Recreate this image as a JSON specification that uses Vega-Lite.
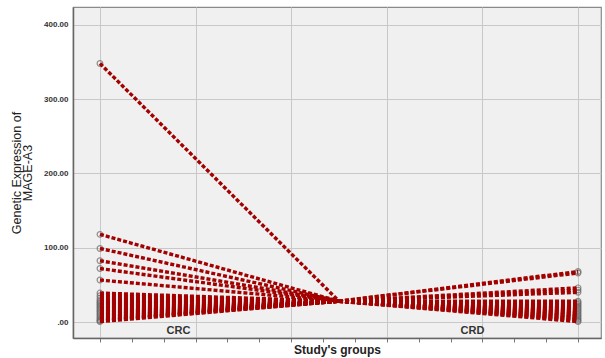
{
  "$schema": "https://vega.github.io/schema/vega-lite/v6.json",
  "width": 528,
  "height": 331,
  "autosize": {"type": "none"},
  "padding": {"left": 73, "top": 7, "right": 4, "bottom": 20},
  "background": "white",
  "config": {
    "view": {"fill": "#f0f0f0", "stroke": "#8a8a8a", "strokeWidth": 1.2},
    "font": "Liberation Sans"
  },
  "data": {
    "values": [
      {"line": "CRC01", "x": 0, "value": 348}, {"line": "CRC01", "x": 2.5, "value": 28},
      {"line": "CRC02", "x": 0, "value": 118}, {"line": "CRC02", "x": 2.5, "value": 28},
      {"line": "CRC03", "x": 0, "value": 99}, {"line": "CRC03", "x": 2.5, "value": 28},
      {"line": "CRC04", "x": 0, "value": 82.5}, {"line": "CRC04", "x": 2.5, "value": 28},
      {"line": "CRC05", "x": 0, "value": 72}, {"line": "CRC05", "x": 2.5, "value": 28},
      {"line": "CRC06", "x": 0, "value": 56.5}, {"line": "CRC06", "x": 2.5, "value": 28},
      {"line": "CRC07", "x": 0, "value": 39}, {"line": "CRC07", "x": 2.5, "value": 28},
      {"line": "CRC08", "x": 0, "value": 35.5}, {"line": "CRC08", "x": 2.5, "value": 28},
      {"line": "CRC09", "x": 0, "value": 32}, {"line": "CRC09", "x": 2.5, "value": 28},
      {"line": "CRC10", "x": 0, "value": 29}, {"line": "CRC10", "x": 2.5, "value": 28},
      {"line": "CRC11", "x": 0, "value": 27}, {"line": "CRC11", "x": 2.5, "value": 28},
      {"line": "CRC12", "x": 0, "value": 25}, {"line": "CRC12", "x": 2.5, "value": 28},
      {"line": "CRC13", "x": 0, "value": 23}, {"line": "CRC13", "x": 2.5, "value": 28},
      {"line": "CRC14", "x": 0, "value": 21}, {"line": "CRC14", "x": 2.5, "value": 28},
      {"line": "CRC15", "x": 0, "value": 19}, {"line": "CRC15", "x": 2.5, "value": 28},
      {"line": "CRC16", "x": 0, "value": 17}, {"line": "CRC16", "x": 2.5, "value": 28},
      {"line": "CRC17", "x": 0, "value": 15}, {"line": "CRC17", "x": 2.5, "value": 28},
      {"line": "CRC18", "x": 0, "value": 13}, {"line": "CRC18", "x": 2.5, "value": 28},
      {"line": "CRC19", "x": 0, "value": 11}, {"line": "CRC19", "x": 2.5, "value": 28},
      {"line": "CRC20", "x": 0, "value": 9}, {"line": "CRC20", "x": 2.5, "value": 28},
      {"line": "CRC21", "x": 0, "value": 7}, {"line": "CRC21", "x": 2.5, "value": 28},
      {"line": "CRC22", "x": 0, "value": 5}, {"line": "CRC22", "x": 2.5, "value": 28},
      {"line": "CRC23", "x": 0, "value": 3}, {"line": "CRC23", "x": 2.5, "value": 28},
      {"line": "CRC24", "x": 0, "value": 1.5}, {"line": "CRC24", "x": 2.5, "value": 28},
      {"line": "CRC25", "x": 0, "value": 0.5}, {"line": "CRC25", "x": 2.5, "value": 28},
      {"line": "CRD01", "x": 5, "value": 68}, {"line": "CRD01", "x": 2.5, "value": 28},
      {"line": "CRD02", "x": 5, "value": 66}, {"line": "CRD02", "x": 2.5, "value": 28},
      {"line": "CRD03", "x": 5, "value": 46}, {"line": "CRD03", "x": 2.5, "value": 28},
      {"line": "CRD04", "x": 5, "value": 43}, {"line": "CRD04", "x": 2.5, "value": 28},
      {"line": "CRD05", "x": 5, "value": 40}, {"line": "CRD05", "x": 2.5, "value": 28},
      {"line": "CRD06", "x": 5, "value": 28}, {"line": "CRD06", "x": 2.5, "value": 28},
      {"line": "CRD07", "x": 5, "value": 26}, {"line": "CRD07", "x": 2.5, "value": 28},
      {"line": "CRD08", "x": 5, "value": 24}, {"line": "CRD08", "x": 2.5, "value": 28},
      {"line": "CRD09", "x": 5, "value": 22}, {"line": "CRD09", "x": 2.5, "value": 28},
      {"line": "CRD10", "x": 5, "value": 20}, {"line": "CRD10", "x": 2.5, "value": 28},
      {"line": "CRD11", "x": 5, "value": 18}, {"line": "CRD11", "x": 2.5, "value": 28},
      {"line": "CRD12", "x": 5, "value": 16}, {"line": "CRD12", "x": 2.5, "value": 28},
      {"line": "CRD13", "x": 5, "value": 14}, {"line": "CRD13", "x": 2.5, "value": 28},
      {"line": "CRD14", "x": 5, "value": 12}, {"line": "CRD14", "x": 2.5, "value": 28},
      {"line": "CRD15", "x": 5, "value": 10}, {"line": "CRD15", "x": 2.5, "value": 28},
      {"line": "CRD16", "x": 5, "value": 8}, {"line": "CRD16", "x": 2.5, "value": 28},
      {"line": "CRD17", "x": 5, "value": 6}, {"line": "CRD17", "x": 2.5, "value": 28},
      {"line": "CRD18", "x": 5, "value": 4}, {"line": "CRD18", "x": 2.5, "value": 28},
      {"line": "CRD19", "x": 5, "value": 2}, {"line": "CRD19", "x": 2.5, "value": 28},
      {"line": "CRD20", "x": 5, "value": 0.5}, {"line": "CRD20", "x": 2.5, "value": 28}
    ]
  },
  "encoding": {
    "x": {
      "field": "x",
      "type": "quantitative",
      "scale": {"domain": [-0.282, 5.24], "nice": false, "zero": false},
      "axis": {
        "title": "Study's groups",
        "titleFontSize": 12,
        "titleFontWeight": "bold",
        "titleColor": "#222",
        "titlePadding": 2,
        "values": [0, 0.3333, 0.6667, 0.816, 1, 1.3333, 1.6667, 2, 2.3333, 2.6667, 3, 3.3333, 3.6667, 3.89, 4, 4.3333, 4.6667, 5],
        "labelExpr": "datum.value == 0.816 ? 'CRC' : (datum.value == 3.89 ? 'CRD' : '')",
        "labelFontSize": 11,
        "labelFontWeight": "bold",
        "labelColor": "#333",
        "labelPadding": -18,
        "labelBaseline": "top",
        "labelFlush": false,
        "labelOverlap": false,
        "tickSize": 4,
        "tickColor": "#777",
        "tickOpacity": {"condition": {"test": "datum.value == 0.816 || datum.value == 3.89", "value": 0}, "value": 1},
        "grid": true,
        "gridColor": "#c8c8c8",
        "gridWidth": 1,
        "gridOpacity": {"condition": {"test": "abs(datum.value - round(datum.value)) < 0.001", "value": 1}, "value": 0},
        "domainColor": "#666",
        "domainWidth": 1.5
      }
    },
    "y": {
      "field": "value",
      "type": "quantitative",
      "scale": {"domain": [-21.5, 424], "nice": false, "zero": false},
      "axis": {
        "title": ["Genetic Expression of", "MAGE-A3"],
        "titleFontSize": 12.5,
        "titleFontWeight": "normal",
        "titleColor": "#222",
        "titleLineHeight": 11.5,
        "titlePadding": 9,
        "values": [0, 100, 200, 300, 400],
        "labelExpr": "datum.value == 0 ? '.00' : format(datum.value, '.2f')",
        "labelFontSize": 8,
        "labelFontWeight": "bold",
        "labelColor": "#333",
        "labelPadding": 5,
        "ticks": false,
        "grid": true,
        "gridColor": "#c8c8c8",
        "gridWidth": 1,
        "domainColor": "#666",
        "domainWidth": 1.5
      }
    }
  },
  "layer": [
    {
      "transform": [{"filter": "datum.x != 2.5"}],
      "mark": {"type": "point", "shape": "circle", "size": 32, "filled": false, "stroke": "#666", "strokeWidth": 1.2}
    },
    {
      "mark": {"type": "line", "color": "#a30000", "strokeWidth": 3.4, "strokeDash": [4, 2], "strokeCap": "butt"},
      "encoding": {"detail": {"field": "line"}}
    }
  ]
}
